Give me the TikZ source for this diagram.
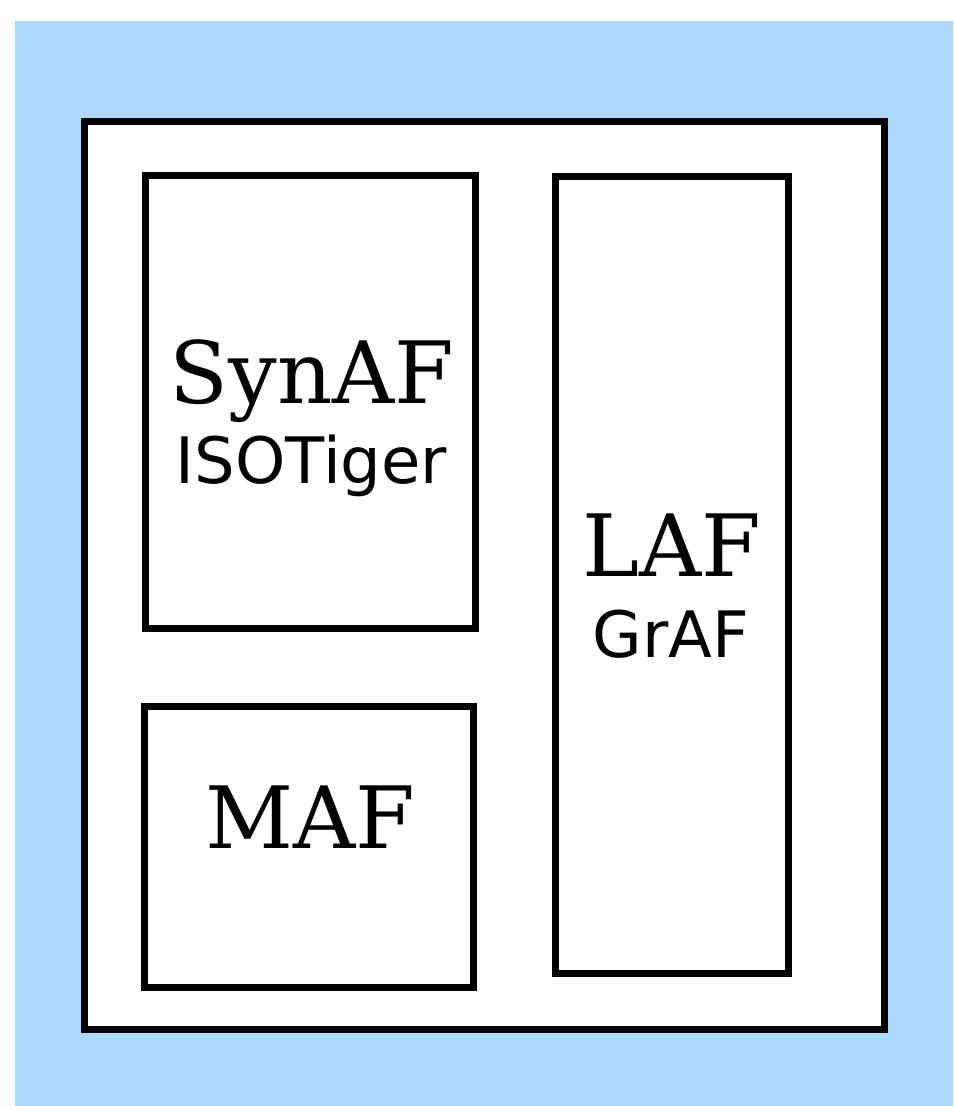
\documentclass[tikz,border=0pt]{standalone}
\usepackage{fontspec}
\newfontfamily\serifdv{DejaVu Serif}
\newfontfamily\sansdv{DejaVu Sans}
\definecolor{bgblue}{RGB}{172,216,254}
\tikzset{
  frame/.style={draw=black, line width=3.5pt, fill=white, rectangle, inner sep=0pt},
  bigtxt/.style={anchor=base, inner sep=0pt, font=\serifdv\fontsize{43pt}{50pt}\selectfont},
  smalltxt/.style={anchor=base, inner sep=0pt, font=\sansdv\fontsize{32pt}{36pt}\selectfont}
}
\begin{document}
\begin{tikzpicture}[x=0.5pt, y=-0.5pt]
\useasboundingbox (0,0) rectangle (953,1106);
\fill[bgblue] (15,21) rectangle (953,1106);
\node[frame, minimum width=799.5pt*0.5, minimum height=907.5pt*0.5] (outer) at (484.25,575.25) {};
\node[frame, minimum width=330pt*0.5, minimum height=453pt*0.5] (synbox) at (310.5,402) {};
\node[frame, minimum width=329.5pt*0.5, minimum height=280.5pt*0.5] (mafbox) at (308.75,846.75) {};
\node[frame, minimum width=233pt*0.5, minimum height=796.5pt*0.5] (lafbox) at (672,574.75) {};
\node[bigtxt] (syn) at (312,403) {SynAF};
\node[smalltxt] (iso) at (311.5,483) {ISOTiger};
\node[bigtxt] (laf) at (672,576) {LAF};
\node[smalltxt] (graf) at (671,657) {GrAF};
\node[bigtxt] (maf) at (310,848) {MAF};
\end{tikzpicture}
\end{document}
